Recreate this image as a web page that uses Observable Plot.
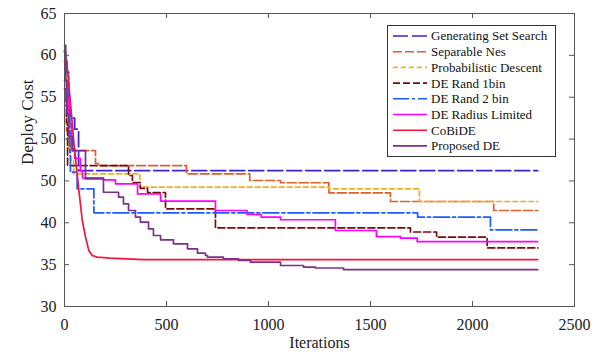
<!DOCTYPE html>
<html><head><meta charset="utf-8">
<script src="https://cdn.jsdelivr.net/npm/d3@7"></script>
<script src="https://cdn.jsdelivr.net/npm/@observablehq/plot@0.6"></script>
<style>body{margin:0;background:#fff} #chart{width:603px;height:359px}</style>
</head><body><div id="chart"></div>
<script>
// ---- data: [iteration, deploy cost] ----
const gss = [[0,56],[8,54.5],[18,53.5],[30,52.5],[50,51.2],[69,46.24],[2320,46.24]];
const sepNes = [[0,54],[10,51],[25,48.63],[152,47.08],[167,46.84],[598,45.85],[908,45.05],[1059,44.78],[1296,43.58],[1598,42.54],[2104,41.47],[2320,41.47]];
const probDesc = [[0,53],[10,51.5],[20,49],[30,47.5],[45,45.85],[369,44.25],[1296,44.06],[1740,42.54],[2320,42.54]];
const deRand1 = [[0,60.5],[5,57],[10,52],[15,46.84],[314,45.65],[333,44.81],[372,44.1],[407,43.62],[495,41.67],[740,39.4],[1696,38.9],[1824,38.28],[2072,37.0],[2320,37.0]];
const deRand2 = [[0,59.3],[12,58],[21,55],[27,48],[29,46.04],[62,44.06],[144,41.19],[1731,40.67],[2088,39.16],[2320,39.16]];
const deRadius = [[0,57],[10,55],[20,51.9],[35,48.8],[50,47.7],[78,46.2],[88,45.37],[191,45.13],[250,44.66],[358,43.46],[471,42.58],[740,41.47],[895,40.99],[964,40.67],[1059,40.36],[1328,39.08],[1529,38.35],[1647,38.16],[1729,37.76],[2320,37.76]];
const coBiDE = [[0,60.5],[12,59],[25,55.5],[38,51.9],[45,49.8],[69,44.2],[87,40.3],[103,38.3],[119,36.7],[136,36.1],[160,35.9],[225,35.77],[387,35.6],[2320,35.6]];
const proposed = [[0,61.2],[6,57],[12,53],[20,50.3],[40,48.63],[103,45.25],[191,43.65],[265,43.06],[289,42.27],[314,41.47],[348,40.67],[372,40.07],[412,39.28],[436,38.48],[471,37.97],[534,37.49],[603,36.89],[652,36.37],[691,36.09],[701,35.9],[779,35.7],[853,35.5],[912,35.3],[1059,34.9],[1172,34.7],[1230,34.6],[1368,34.4],[2320,34.4]];

const seriesNames = ["Generating Set Search","Separable Nes","Probabilistic Descent","DE Rand 1bin","DE Rand 2 bin","DE Radius Limited","CoBiDE","Proposed DE"];
const seriesData = [gss, sepNes, probDesc, deRand1, deRand2, deRadius, coBiDE, proposed];

const xTickValues = [0,500,1000,1500,2000,2500];
const xTickLabels = ["0","500","1000","1500","2000","2500"];
const yTickValues = [30,35,40,45,50,55,60,65];
const yTickLabels = ["30","35","40","50","50","55","60","65"];

// ---- styles ----
const seriesColors = ["#3c22d4","#dd5f2a","#edb120","#7a0a0a","#1a5cff","#ff00ff","#f5143c","#7e2f8e"];
const seriesDash = ["15,4","9,3","5,3","7,3","16,3,3,3",null,null,null];
const seriesCurve = ["step-after","step-after","step-after","step-after","step-after","step-after","linear","step-after"];

const rows = seriesData.flatMap((pts, i) => pts.map(([it, c]) => ({series: seriesNames[i], iter: it, cost: c})));

const font = "'Liberation Serif', 'Times New Roman', serif";
const W = 603, H = 359, mL = 64, mR = 29, mT = 13, mB = 53;

const svg = Plot.plot({
  width: W, height: H,
  marginLeft: mL, marginRight: mR, marginTop: mT, marginBottom: mB,
  style: {fontFamily: font, fontSize: "16px", color: "#222", background: "#fff"},
  x: {domain: [0, 2500], axis: null},
  y: {domain: [30, 65], axis: null},
  marks: [
    ...seriesNames.map((name, i) => Plot.line(rows.filter(r => r.series === name), {
      x: "iter", y: "cost", stroke: seriesColors[i], strokeWidth: 1.7,
      strokeDasharray: seriesDash[i] || undefined, curve: seriesCurve[i]
    })),
    Plot.frame({stroke: "#555", strokeWidth: 1}),
    Plot.ruleX(xTickValues, {x: d => d, y1: 30, y2: 30.6, stroke: "#555"}),
    Plot.ruleX(xTickValues, {x: d => d, y1: 65, y2: 64.4, stroke: "#555"}),
    Plot.ruleY(yTickValues, {y: d => d, x1: 0, x2: 24.5, stroke: "#555"}),
    Plot.ruleY(yTickValues, {y: d => d, x1: 2500, x2: 2475.5, stroke: "#555"}),
    Plot.text(xTickValues, {x: d => d, y: 30, text: (d, i) => xTickLabels[i], dy: 18, fontSize: 16, fill: "#222"}),
    Plot.text(yTickValues, {x: 0, y: d => d, text: (d, i) => yTickLabels[i], dx: -8, textAnchor: "end", fontSize: 16, fill: "#222"}),
    Plot.text(["Iterations"], {frameAnchor: "bottom", dy: 41, fontSize: 16, fill: "#222"}),
    Plot.text(["Deploy Cost"], {frameAnchor: "left", dx: -37, dy: 5, rotate: -90, fontSize: 17, fill: "#222"})
  ]
});

// ---- legend (drawn into the same SVG) ----
const lg = d3.select(svg).append("g").attr("font-family", font).attr("font-size", 13).attr("text-anchor", "start");
lg.append("rect").attr("x", 387.5).attr("y", 25.5).attr("width", 168).attr("height", 131)
  .attr("fill", "#fff").attr("stroke", "#333").attr("stroke-width", 1);
seriesNames.forEach((name, i) => {
  const y = 36 + i * 15.7;
  lg.append("line").attr("x1", 393).attr("x2", 427).attr("y1", y).attr("y2", y)
    .attr("stroke", seriesColors[i]).attr("stroke-width", 1.6)
    .attr("stroke-dasharray", seriesDash[i] || null);
  lg.append("text").attr("x", 431).attr("y", y).attr("dy", "0.34em").attr("fill", "#111")
    .attr("text-anchor", "start").text(name);
});

document.getElementById("chart").appendChild(svg);
</script>
</body></html>
